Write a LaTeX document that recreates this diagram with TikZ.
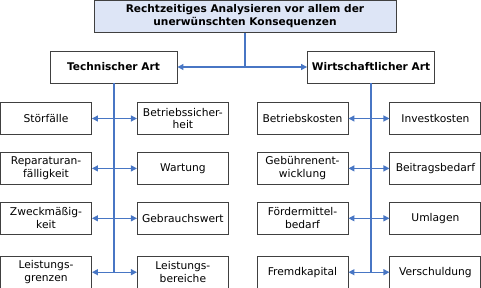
\documentclass[tikz,border=0pt]{standalone}
\usepackage{fontspec}
\setmainfont{DejaVu Sans}
\usepackage{xcolor}
\usetikzlibrary{arrows.meta, positioning}

\definecolor{linkblue}{RGB}{72,118,196}
\definecolor{headfill}{RGB}{221,229,246}
\definecolor{boxline}{RGB}{64,64,64}

\begin{document}
\begin{tikzpicture}[
        x=1pt, y=-1pt,
        font=\fontsize{10.7}{12.8}\selectfont,
        headbox/.style={rectangle, draw=boxline, fill=headfill, line width=0.9pt, minimum width=302pt, minimum height=32pt, inner sep=0pt, align=center, font=\fontsize{10.6}{13}\selectfont\bfseries},
        catbox/.style={rectangle, draw=boxline, fill=white, line width=0.9pt, minimum width=127pt, minimum height=32pt, inner sep=0pt, font=\fontsize{10.6}{13}\selectfont\bfseries},
        itembox/.style={rectangle, draw=boxline, fill=white, line width=0.9pt, minimum width=91pt, minimum height=32pt, inner sep=0pt, align=center},
        trunk/.style={linkblue, line width=2pt},
        arrow/.style={linkblue, line width=1.2pt, {Triangle[length=6pt,width=6pt]}-{Triangle[length=6pt,width=6pt]}}
    ]

    \useasboundingbox (0,0) rectangle (481,287);

    \node (head) [headbox] at (245,16.5) {Rechtzeitiges Analysieren vor allem der\\unerwünschten Konsequenzen};

    \node (tech) [catbox] at (113.5,67) {Technischer Art};
    \node (wirt) [catbox] at (371,67) {Wirtschaftlicher Art};

    % technische Seite
    \node (stoer) [itembox] at (46,118.5) {Störfälle};
    \node (sicher) [itembox, right=45pt of stoer] {Betriebssicher-\\heit};
    \node (repar) [itembox, below=17pt of stoer] {Reparaturan-\\fälligkeit};
    \node (wart) [itembox, right=45pt of repar] {Wartung};
    \node (zweck) [itembox, below=17pt of repar] {Zweckmäßig-\\keit};
    \node (gebr) [itembox, right=45pt of zweck] {Gebrauchswert};
    \node (lgrenz) [itembox, below=21pt of zweck] {Leistungs-\\grenzen};
    \node (lber) [itembox, right=45pt of lgrenz] {Leistungs-\\bereiche};

    % wirtschaftliche Seite
    \node (bkost) [itembox] at (302.5,118.5) {Betriebskosten};
    \node (ikost) [itembox, right=41pt of bkost] {Investkosten};
    \node (gebuehr) [itembox, below=17pt of bkost] {Gebührenent-\\wicklung};
    \node (beitr) [itembox, right=41pt of gebuehr] {Beitragsbedarf};
    \node (foerd) [itembox, below=17pt of gebuehr] {Fördermittel-\\bedarf};
    \node (umlag) [itembox, right=41pt of foerd] {Umlagen};
    \node (fremd) [itembox, below=21pt of foerd] {Fremdkapital};
    \node (schuld) [itembox, right=41pt of fremd] {Verschuldung};

    \draw [trunk] (head.south) -- (head.south |- tech.east);
    \draw [arrow] (tech) -- (wirt);

    \draw [trunk] (tech.south) -- (tech.south |- lgrenz.east);
    \draw [trunk] (wirt.south) -- (wirt.south |- fremd.east);

    \draw [arrow] (stoer) -- (sicher);
    \draw [arrow] (repar) -- (wart);
    \draw [arrow] (zweck) -- (gebr);
    \draw [arrow] (lgrenz) -- (lber);

    \draw [arrow] (bkost) -- (ikost);
    \draw [arrow] (gebuehr) -- (beitr);
    \draw [arrow] (foerd) -- (umlag);
    \draw [arrow] (fremd) -- (schuld);

\end{tikzpicture}
\end{document}
